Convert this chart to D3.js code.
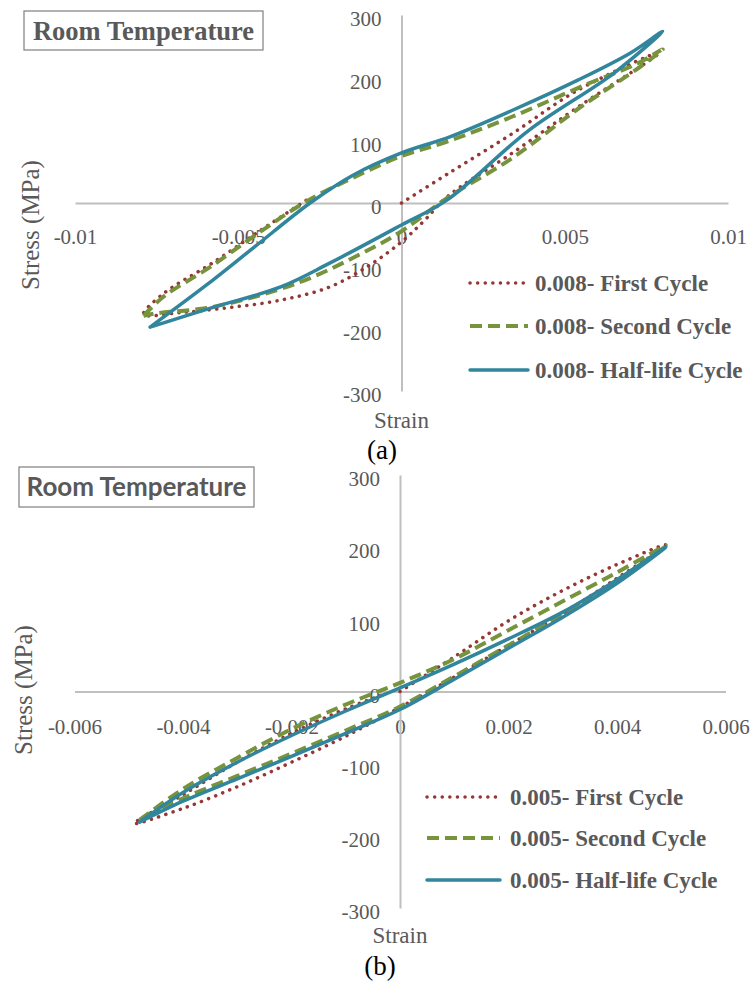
<!DOCTYPE html>
<html>
<head>
<meta charset="utf-8">
<script src="https://cdn.jsdelivr.net/npm/d3@7"></script>
<style>
  body { margin: 0; background: #fff; }
  svg { display: block; }
  .axis path.domain { stroke: #bfbfbf; stroke-width: 2; }
  .serif { font-family: "Liberation Serif", "Tinos", "Times New Roman", serif; }
  .axis text { font-family: "Liberation Serif", "Tinos", "Times New Roman", serif; font-size: 21px; fill: #595959; }
</style>
</head>
<body>
<div id="chart"></div>
<script>
// ---- data: [strain, stress (MPa)] ----
var stressTicks = [-300, -200, -100, 0, 100, 200, 300];
var stressLabels = ["-300", "-200", "-100", "0", "100", "200", "300"];
var strainTicksA = [-0.01, -0.005, 0, 0.005, 0.01];
var strainLabelsA = ["-0.01", "-0.005", "0", "0.005", "0.01"];
var strainTicksB = [-0.006, -0.004, -0.002, 0, 0.002, 0.004, 0.006];
var strainLabelsB = ["-0.006", "-0.004", "-0.002", "0", "0.002", "0.004", "0.006"];
var seriesNames = ["First Cycle", "Second Cycle", "Half-life Cycle"];

// panel (a): 0.008 strain amplitude
var firstA = [[0,0],[0.0014,46],[0.0034,111],[0.0054,180],[0.0079,240],[0.0054,153],[0.0034,80],[0.0014,10],
  [0.0007,-28],[0,-62],[-0.001,-100],[-0.0022,-134],[-0.0037,-155],[-0.0053,-167],[-0.0068,-175],[-0.0079,-178],
  [-0.0073,-145],[-0.0058,-96],[-0.0043,-43],[-0.0029,5]];
var secondA = [[-0.0079,-180],[-0.0073,-150],[-0.0058,-100],[-0.0043,-45],[-0.0029,3],[-0.0015,40],[0,75],
  [0.0014,98],[0.0034,138],[0.0057,190],[0.0072,222],[0.008,245],[0.0073,217],[0.0054,150],[0.0034,72],
  [0.0014,8],[0,-45],[-0.0012,-80],[-0.0032,-128],[-0.0058,-166],[-0.0075,-176],[-0.0079,-180]];
var halfA = [[-0.0077,-198],[-0.006,-132],[-0.0045,-70],[-0.0028,0],[-0.0015,44],[0,80],[0.0015,106],
  [0.0034,148],[0.0054,196],[0.007,239],[0.008,274],[0.0065,207],[0.0039,116],[0.0014,5],[0,-35],
  [-0.0022,-96],[-0.0037,-134],[-0.0058,-167],[-0.0077,-198]];

// panel (b): 0.005 strain amplitude
var firstB = [[0,0],[0.001,48],[0.002,98],[0.003,140],[0.004,176],[0.0049,203],[0.004,157],[0.003,108],
  [0.002,64],[0.001,20],[0,-22],[-0.001,-62],[-0.002,-98],[-0.003,-132],[-0.004,-162],[-0.0049,-183],
  [-0.004,-143],[-0.003,-98],[-0.002,-58],[-0.001,-24],[-0.0003,-4]];
var secondB = [[-0.0048,-178],[-0.004,-135],[-0.003,-92],[-0.002,-52],[-0.001,-18],[0,12],[0.001,45],
  [0.002,85],[0.003,125],[0.004,165],[0.0049,202],[0.004,154],[0.003,107],[0.002,64],[0.001,21],[0,-21],
  [-0.001,-54],[-0.002,-86],[-0.003,-117],[-0.004,-148],[-0.0048,-178]];
var halfB = [[-0.0048,-181],[-0.004,-140],[-0.003,-98],[-0.002,-61],[-0.001,-27],[0,5],[0.001,38],
  [0.002,73],[0.003,110],[0.004,155],[0.0049,200],[0.004,150],[0.003,103],[0.002,60],[0.001,17],[0,-25],
  [-0.001,-58],[-0.002,-90],[-0.003,-121],[-0.004,-152],[-0.0048,-181]];

var styles = [
  {color: "#953735", width: 3.5, dash: "0.1 7.5", cap: "round"},
  {color: "#77933c", width: 4, dash: "12 6", cap: "butt"},
  {color: "#31859c", width: 3.5, dash: null, cap: "round"}
];

var svg = d3.select("#chart").append("svg")
  .attr("width", 753)
  .attr("height", 986);

function drawPanel(p) {
  var x = d3.scaleLinear().domain(p.xDomain).range(p.xRange);
  var y = d3.scaleLinear().domain([-300, 300]).range(p.yRange);
  var g = svg.append("g");

  g.append("g")
    .attr("class", "x axis")
    .attr("transform", "translate(0," + y(0) + ")")
    .call(d3.axisBottom(x).tickValues(p.xTicks)
      .tickFormat(function(d, i) { return p.xLabels[i]; })
      .tickSize(0).tickSizeOuter(0).tickPadding(p.xPad));

  var yAxis = g.append("g")
    .attr("class", "y axis")
    .attr("transform", "translate(" + x(0) + ",0)")
    .call(d3.axisLeft(y).tickValues(stressTicks)
      .tickFormat(function(d, i) { return stressLabels[i]; })
      .tickSize(0).tickSizeOuter(0).tickPadding(20));
  yAxis.selectAll("text").attr("y", 4);

  var line = d3.line()
    .x(function(d) { return x(d[0]); })
    .y(function(d) { return y(d[1]); })
    .curve(d3.curveCatmullRom.alpha(0.5));

  p.series.forEach(function(s, i) {
    var st = styles[i];
    g.append("path")
      .datum(s)
      .attr("fill", "none")
      .attr("stroke", st.color)
      .attr("stroke-width", st.width)
      .attr("stroke-dasharray", st.dash)
      .attr("stroke-linecap", st.cap)
      .attr("stroke-linejoin", "round")
      .attr("d", line);
  });

  // legend
  seriesNames.forEach(function(name, i) {
    var st = styles[i];
    var ly = p.legend.y[i];
    g.append("line")
      .attr("x1", p.legend.x1).attr("x2", p.legend.x2)
      .attr("y1", ly).attr("y2", ly)
      .attr("stroke", st.color)
      .attr("stroke-width", st.width)
      .attr("stroke-dasharray", st.dash)
      .attr("stroke-linecap", st.cap);
    g.append("text")
      .attr("class", "serif")
      .attr("x", p.legend.tx)
      .attr("y", ly)
      .attr("dy", "0.35em")
      .style("font-weight", "bold")
      .style("font-size", "23px")
      .style("fill", "#595959")
      .text(p.prefix + "- " + name);
  });

  // title box
  g.append("rect")
    .attr("x", p.box[0]).attr("y", p.box[1])
    .attr("width", p.box[2]).attr("height", p.box[3])
    .attr("fill", "#fff")
    .attr("stroke", "#7f7f7f")
    .attr("stroke-width", 1.2);
  g.append("text")
    .attr("class", p.titleClass)
    .attr("x", p.box[0] + p.box[2] / 2)
    .attr("y", p.box[1] + p.box[3] / 2)
    .attr("dy", "0.35em")
    .attr("text-anchor", "middle")
    .style("font-weight", "bold")
    .style("font-size", p.titleSize)
    .style("fill", "#595959")
    .text("Room Temperature");

  // axis titles
  g.append("text")
    .attr("class", "serif")
    .attr("transform", "translate(" + p.yLabel[0] + "," + p.yLabel[1] + ") rotate(-90)")
    .attr("text-anchor", "middle")
    .attr("dy", "0.35em")
    .style("font-size", "25px")
    .style("fill", "#595959")
    .text("Stress (MPa)");

  g.append("text")
    .attr("class", "serif")
    .attr("x", x(0))
    .attr("y", p.strainY)
    .attr("dy", "0.35em")
    .attr("text-anchor", "middle")
    .style("font-size", "23px")
    .style("fill", "#595959")
    .text("Strain");

  g.append("text")
    .attr("class", "serif")
    .attr("x", p.tag[0])
    .attr("y", p.tag[1])
    .attr("dy", "0.35em")
    .attr("text-anchor", "middle")
    .style("font-size", "27px")
    .style("fill", "#000")
    .text(p.tagText);
}

drawPanel({
  xDomain: [-0.01, 0.01], xRange: [75, 728], yRange: [391, 15],
  xTicks: strainTicksA, xLabels: strainLabelsA, xPad: 26,
  series: [firstA, secondA, halfA],
  prefix: "0.008",
  legend: {x1: 470, x2: 528, tx: 535, y: [283, 326, 370]},
  box: [24, 11, 239, 39],
  titleClass: "serif", titleSize: "26.5px",
  yLabel: [30, 225], strainY: 420,
  tag: [382, 450], tagText: "(a)"
});

drawPanel({
  xDomain: [-0.006, 0.006], xRange: [74.5, 725.5], yRange: [908, 475],
  xTicks: strainTicksB, xLabels: strainLabelsB, xPad: 28,
  series: [firstB, secondB, halfB],
  prefix: "0.005",
  legend: {x1: 427, x2: 500, tx: 510, y: [797, 838, 880]},
  box: [19, 467, 235, 40],
  titleClass: "sans", titleSize: "26px",
  yLabel: [23, 690], strainY: 935,
  tag: [380, 966], tagText: "(b)"
});
d3.selectAll("text.sans").style("font-family", "Lato, 'Open Sans', sans-serif");
</script>
</body>
</html>
